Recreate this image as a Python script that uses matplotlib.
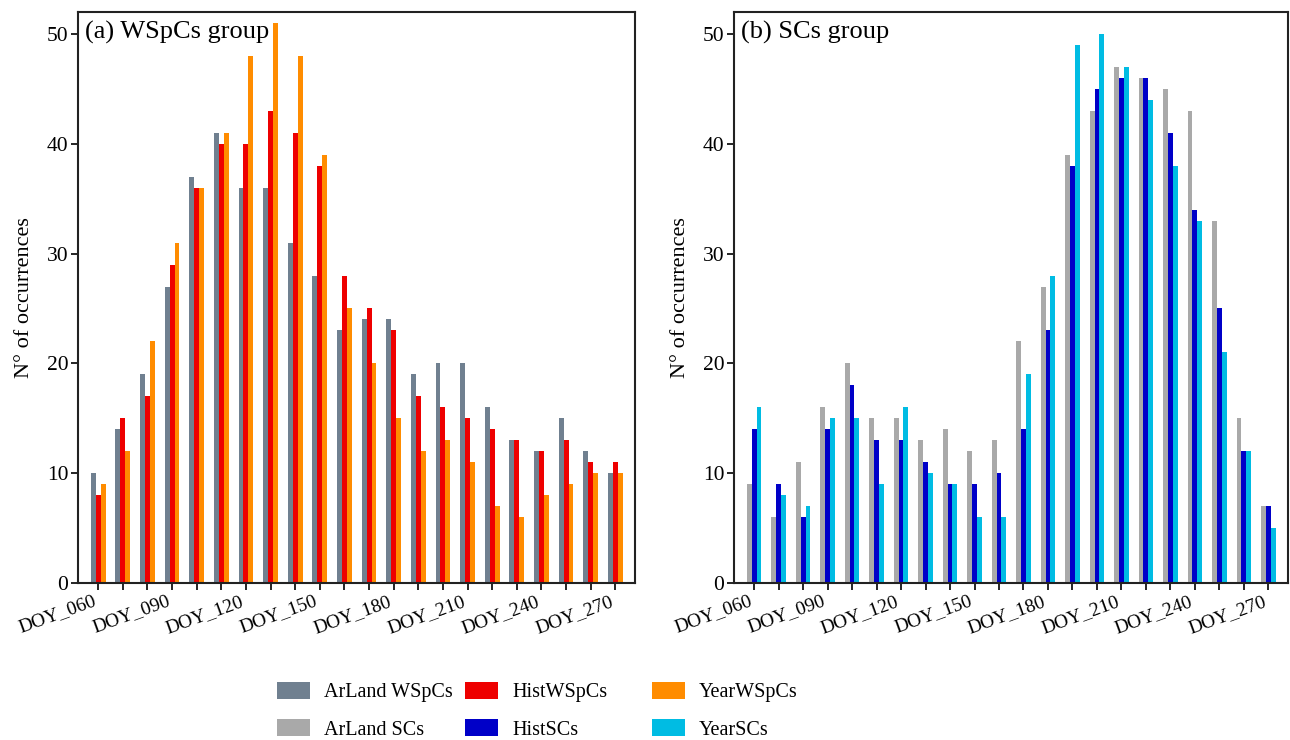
import numpy as np
import matplotlib
matplotlib.use("Agg")
import matplotlib.pyplot as plt
from matplotlib.patches import Patch

plt.rcParams['font.family'] = ['Liberation Serif', 'DejaVu Serif']

doy = ["DOY_060", "DOY_070", "DOY_080", "DOY_090", "DOY_100", "DOY_110", "DOY_120",
       "DOY_130", "DOY_140", "DOY_150", "DOY_160", "DOY_170", "DOY_180", "DOY_190",
       "DOY_200", "DOY_210", "DOY_220", "DOY_230", "DOY_240", "DOY_250", "DOY_260", "DOY_270"]

arland_wspcs = [10, 14, 19, 27, 37, 41, 36, 36, 31, 28, 23, 24, 24, 19, 20, 20, 16, 13, 12, 15, 12, 10]
hist_wspcs   = [8, 15, 17, 29, 36, 40, 40, 43, 41, 38, 28, 25, 23, 17, 16, 15, 14, 13, 12, 13, 11, 11]
year_wspcs   = [9, 12, 22, 31, 36, 41, 48, 51, 48, 39, 25, 20, 15, 12, 13, 11, 7, 6, 8, 9, 10, 10]

arland_scs = [9, 6, 11, 16, 20, 15, 15, 13, 14, 12, 13, 22, 27, 39, 43, 47, 46, 45, 43, 33, 15, 7]
hist_scs   = [14, 9, 6, 14, 18, 13, 13, 11, 9, 9, 10, 14, 23, 38, 45, 46, 46, 41, 34, 25, 12, 7]
year_scs   = [16, 8, 7, 15, 15, 9, 16, 10, 9, 6, 6, 19, 28, 49, 50, 47, 44, 38, 33, 21, 12, 5]

panel_titles = ["(a) WSpCs group", "(b) SCs group"]
ylabel = "N° of occurrences"

c_arw, c_hw, c_yw = "#708090", "#EE0000", "#FF8C00"
c_ars, c_hs, c_ys = "#A9A9A9", "#0000C8", "#00BCE3"

fig = plt.figure(figsize=(12.9, 7.4), dpi=100)
ax1 = fig.add_axes([78/1290, 157/740, 557/1290, 571/740])
ax2 = fig.add_axes([734/1290, 157/740, 554/1290, 571/740])

x = np.arange(len(doy))
w = 0.2

panels = [
    (ax1, [arland_wspcs, hist_wspcs, year_wspcs], [c_arw, c_hw, c_yw]),
    (ax2, [arland_scs, hist_scs, year_scs], [c_ars, c_hs, c_ys]),
]

for i, (ax, series, cols) in enumerate(panels):
    for k, (vals, col) in enumerate(zip(series, cols)):
        ax.bar(x + (k - 1) * w, vals, width=w, color=col, linewidth=0)
    ax.set_xlim(-0.82, len(doy) - 1 + 0.8)
    ax.set_ylim(0, 52)
    ax.set_xticks(x)
    ax.set_xticklabels([lab if j % 3 == 0 else "" for j, lab in enumerate(doy)],
                       rotation=20, ha='right', fontsize=14)
    ax.set_yticks([0, 10, 20, 30, 40, 50])
    ax.tick_params(axis='y', labelsize=15.5, length=5, width=1.2, pad=2)
    ax.tick_params(axis='x', length=5, width=1.2, pad=2)
    for s in ax.spines.values():
        s.set_linewidth(1.5)
        s.set_color('#222222')
    ax.set_ylabel(ylabel, fontsize=16, labelpad=9)
    ax.text(0.012, 0.985, panel_titles[i], transform=ax.transAxes,
            ha='left', va='top', fontsize=19)

# legend: three columns of two rows each
legend_cols = [
    (["ArLand WSpCs", "ArLand SCs"], [c_arw, c_ars], 277),
    (["HistWSpCs", "HistSCs"], [c_hw, c_hs], 465),
    (["YearWSpCs", "YearSCs"], [c_yw, c_ys], 652),
]
for labels, cols, xpix in legend_cols:
    handles = [Patch(facecolor=c, edgecolor='none') for c in cols]
    fig.legend(handles, labels, loc='upper left',
               bbox_to_anchor=(xpix / 1290, 1 - 682 / 740),
               frameon=False, fontsize=14.5, ncol=1,
               handlelength=1.64, handleheight=0.89, handletextpad=0.7,
               labelspacing=0.85, borderpad=0, borderaxespad=0)

fig.savefig("out.png", dpi=100)
